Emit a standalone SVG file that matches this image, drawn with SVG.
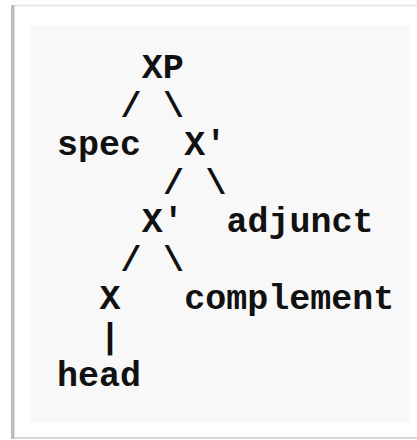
<svg xmlns="http://www.w3.org/2000/svg" width="417" height="440" viewBox="0 0 417 440">
  <style>
    .t { font-family: "Liberation Mono", "Courier New", monospace; font-weight: bold; font-size: 35px; fill: #111; }
  </style>
  <!-- page and frame -->
  <rect x="0" y="0" width="417" height="440" fill="#ffffff"/>
  <line x1="12" y1="5.5" x2="417" y2="5.5" stroke="#e2e2e2" stroke-width="1.5"/>
  <line x1="12" y1="438" x2="417" y2="438" stroke="#d8d8d8" stroke-width="2"/>
  <rect x="11" y="5" width="3.5" height="434" fill="#bdbdbd"/>
  <rect x="30" y="25" width="379" height="397" fill="#f8f8f8"/>

  <!-- tree connectors -->
  <g id="connectors" class="t">
    <text x="120.6" y="116.5">/</text>
    <text x="163" y="116.5">\</text>
    <text x="163" y="193.5">/</text>
    <text x="205.4" y="193.5">\</text>
    <text x="120.6" y="270.5">/</text>
    <text x="163" y="270.5">\</text>
    <text x="99.4" y="347.5">|</text>
  </g>

  <!-- tree nodes -->
  <g id="XP"><text class="t" x="141.8" y="78">XP</text></g>
  <g id="spec"><text class="t" x="57" y="155">spec</text></g>
  <g id="Xbar-upper"><text class="t" x="184.2" y="155">X'</text></g>
  <g id="Xbar-lower"><text class="t" x="141.8" y="232">X'</text></g>
  <g id="adjunct"><text class="t" x="226.6" y="232">adjunct</text></g>
  <g id="X"><text class="t" x="99.4" y="309">X</text></g>
  <g id="complement"><text class="t" x="184.2" y="309">complement</text></g>
  <g id="head"><text class="t" x="57" y="386">head</text></g>
</svg>
